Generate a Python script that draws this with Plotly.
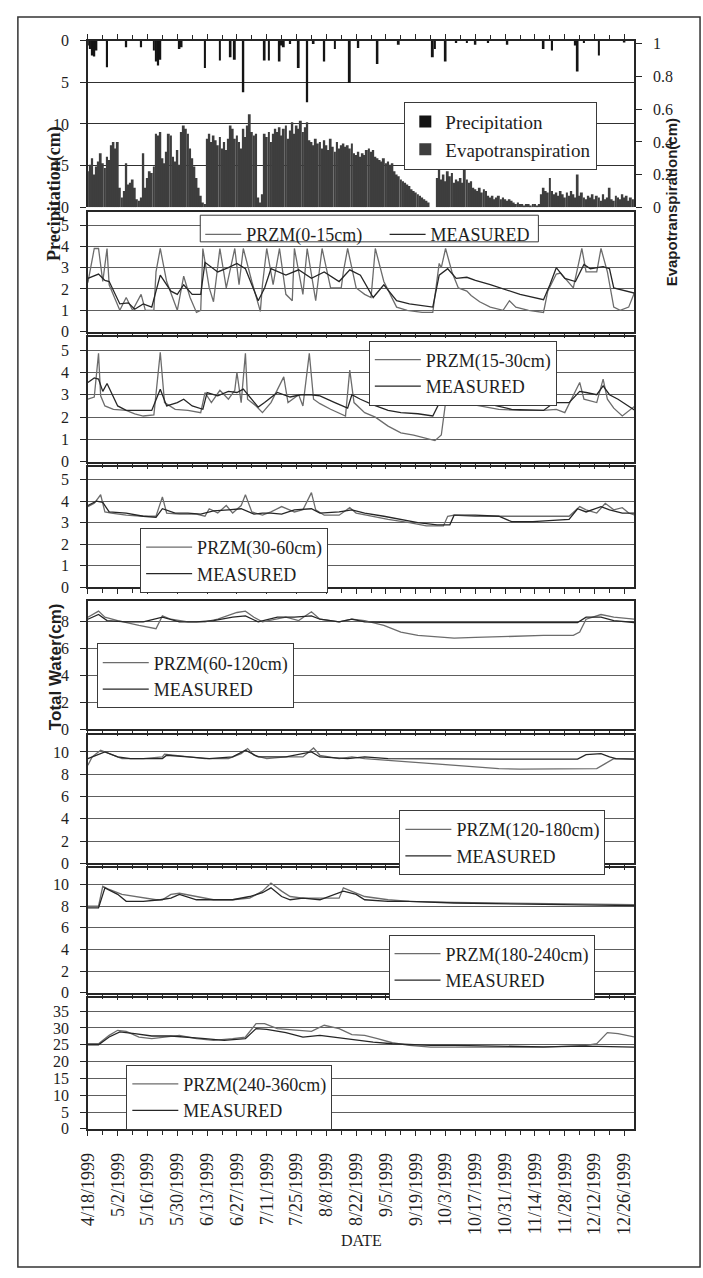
import pandas as pd
import plotly.graph_objects as go

# ---------------------------------------------------------------------------
# Data: daily record starting 18 Apr 1999.  Day numbers count days after that date.
# ---------------------------------------------------------------------------
START = pd.Timestamp("1999-04-18")
END = pd.Timestamp("1999-12-30 12:00")

rain_day = [0, 1, 2, 3, 4, 9, 18, 25, 31, 32, 33, 34, 43, 44, 55, 62, 67, 69, 73,
            83, 85, 90, 91, 92, 95, 99, 103, 106, 111, 116, 123, 127, 136, 146,
            162, 163, 168, 173, 178, 182, 188, 197, 214, 218, 229, 230, 233, 240, 252]
rain_cm = [0.6, 1.0, 1.8, 1.9, 1.2, 3.2, 0.8, 0.8, 1.2, 2.5, 3.0, 2.3, 1.0, 0.8, 3.3, 2.4, 2.0, 2.3, 6.2,
           2.4, 2.4, 2.5, 0.6, 0.8, 0.4, 3.3, 7.4, 0.4, 2.5, 1.0, 5.1, 0.9, 2.8, 0.5,
           2.0, 1.0, 2.5, 0.3, 0.3, 0.5, 0.3, 0.5, 1.0, 1.2, 0.6, 3.7, 0.3, 1.8, 0.2]

# daily evapotranspiration (cm), one value per day from day 0 to day 256
et_cm = [
    0.22, 0.26, 0.30, 0.20, 0.25, 0.28, 0.33, 0.27, 0.24, 0.31,
    0.29, 0.38, 0.40, 0.36, 0.40, 0.12, 0.06, 0.10, 0.27, 0.14,
    0.15, 0.17, 0.12, 0.05, 0.04, 0.06, 0.33, 0.12, 0.18, 0.22,
    0.21, 0.25, 0.45, 0.44, 0.46, 0.30, 0.27, 0.34, 0.45, 0.44,
    0.31, 0.28, 0.35, 0.26, 0.46, 0.50, 0.48, 0.45, 0.36, 0.30,
    0.25, 0.18, 0.12, 0.07, 0.03, 0.02, 0.42, 0.45, 0.40, 0.44,
    0.41, 0.38, 0.43, 0.36, 0.40, 0.35, 0.42, 0.50, 0.48, 0.42,
    0.44, 0.40, 0.36, 0.48, 0.43, 0.50, 0.57, 0.46, 0.44, 0.45,
    0.06, 0.03, 0.08, 0.45, 0.43, 0.46, 0.40, 0.45, 0.48, 0.46,
    0.49, 0.44, 0.48, 0.50, 0.42, 0.47, 0.52, 0.45, 0.50, 0.48,
    0.53, 0.46, 0.49, 0.52, 0.41, 0.40, 0.38, 0.42, 0.39, 0.40,
    0.36, 0.41, 0.38, 0.35, 0.42, 0.37, 0.34, 0.40, 0.36, 0.38,
    0.39, 0.37, 0.38, 0.36, 0.39, 0.33, 0.32, 0.34, 0.31, 0.33,
    0.32, 0.35, 0.36, 0.34, 0.35, 0.31, 0.30, 0.29, 0.28, 0.30,
    0.27, 0.28, 0.26, 0.27, 0.22, 0.20, 0.19, 0.17, 0.16, 0.15,
    0.14, 0.13, 0.11, 0.10, 0.09, 0.08, 0.07, 0.06, 0.05, 0.04,
    0.03, 0.00, 0.00, 0.00, 0.18, 0.27, 0.17, 0.20, 0.16, 0.22,
    0.19, 0.21, 0.15, 0.17, 0.16, 0.18, 0.15, 0.24, 0.17, 0.15,
    0.16, 0.12, 0.11, 0.10, 0.12, 0.09, 0.11, 0.10, 0.07, 0.06,
    0.07, 0.05, 0.06, 0.07, 0.05, 0.06, 0.05, 0.04, 0.05, 0.04,
    0.03, 0.02, 0.03, 0.02, 0.02, 0.01, 0.02, 0.02, 0.01, 0.02,
    0.02, 0.01, 0.02, 0.08, 0.12, 0.10, 0.09, 0.18, 0.10, 0.08,
    0.09, 0.07, 0.10, 0.08, 0.06, 0.09, 0.07, 0.10, 0.08, 0.06,
    0.20, 0.07, 0.09, 0.06, 0.05, 0.07, 0.06, 0.08, 0.05, 0.07,
    0.06, 0.04, 0.08, 0.05, 0.06, 0.12, 0.05, 0.04, 0.07, 0.06,
    0.05, 0.08, 0.06, 0.07, 0.04, 0.06, 0.05,
]

# --- 0-15 cm ---
przm_0_15_day = [0, 3, 5, 7, 9, 10, 15, 18, 21, 25, 27, 31, 32, 34, 37, 42, 45, 48, 51, 53, 54, 57, 59,
                 62, 65, 67, 69, 71, 73, 77, 81, 82, 84, 87, 90, 93, 96, 97, 101, 103, 107, 110, 114,
                 119, 120, 122, 126, 130, 133, 135, 139, 145, 150, 157, 162, 165, 166, 168, 171, 174,
                 178, 180, 184, 189, 195, 198, 201, 207, 214, 216, 220, 222, 228, 232, 234, 239, 241,
                 244, 247, 250, 254, 257]
przm_0_15 = [2.3, 3.9, 3.9, 2.35, 3.9, 2.2, 1.0, 1.6, 1.0, 1.75, 1.0, 1.0, 2.8, 3.9, 2.35, 1.0, 2.6, 1.6,
             0.9, 1.0, 3.9, 2.05, 1.4, 3.9, 2.05, 3.0, 3.9, 2.2, 3.9, 2.35, 0.95, 2.2, 3.9, 2.2, 3.9,
             1.75, 1.45, 3.9, 1.75, 3.9, 1.45, 3.9, 2.05, 2.05, 2.8, 3.9, 2.05, 1.75, 1.6, 3.9, 2.35,
             1.15, 1.0, 0.9, 0.9, 3.2, 3.0, 3.9, 2.8, 2.05, 1.9, 1.7, 1.4, 1.15, 1.0, 1.45, 1.15, 1.0,
             0.9, 1.9, 2.7, 2.75, 2.05, 3.9, 2.8, 2.8, 3.9, 2.8, 1.15, 1.0, 1.15, 1.9]
meas_0_15_day = [0, 5, 8, 10, 15, 19, 22, 26, 30, 34, 39, 42, 45, 49, 53, 55, 61, 66, 70, 74, 80, 83, 86,
                 93, 99, 105, 111, 118, 123, 128, 134, 139, 145, 151, 162, 165, 169, 173, 178, 182, 189,
                 198, 203, 214, 217, 220, 224, 229, 233, 236, 242, 245, 247, 257]
meas_0_15 = [2.5, 2.7, 2.4, 2.35, 1.3, 1.35, 1.05, 1.3, 1.15, 2.65, 1.9, 1.75, 2.2, 1.75, 1.75, 3.25, 2.8,
             3.0, 3.2, 2.95, 1.45, 2.05, 2.95, 2.65, 2.9, 2.5, 2.8, 2.35, 2.9, 2.65, 1.6, 2.2, 1.45, 1.3,
             1.15, 2.65, 2.95, 2.5, 2.55, 2.4, 2.2, 1.9, 1.75, 1.5, 2.2, 3.0, 2.5, 2.35, 3.15, 2.95, 3.05,
             2.95, 2.05, 1.8]

# --- 15-30 cm ---
przm_15_30_day = [0, 3, 5, 6, 8, 12, 18, 22, 26, 31, 34, 36, 41, 47, 53, 55, 58, 62, 66, 69, 70, 72, 74,
                  75, 79, 82, 86, 92, 94, 99, 101, 104, 106, 109, 114, 121, 123, 125, 130, 135, 141, 147,
                  153, 159, 163, 166, 168, 170, 176, 184, 193, 203, 214, 220, 224, 231, 233, 239, 242,
                  244, 247, 251, 257]
przm_15_30 = [2.8, 2.9, 4.85, 2.95, 2.5, 2.35, 2.3, 2.15, 2.05, 2.1, 4.9, 2.65, 2.35, 2.3, 2.2, 3.1, 2.65,
              3.2, 2.8, 3.2, 4.0, 2.65, 4.85, 2.8, 2.5, 2.2, 2.65, 3.8, 2.65, 3.0, 2.5, 4.85, 2.8, 2.6,
              2.35, 2.05, 4.1, 2.65, 2.2, 2.0, 1.6, 1.3, 1.2, 1.03, 0.95, 1.2, 2.65, 2.8, 2.65, 2.5, 2.35,
              2.3, 2.3, 2.35, 2.2, 3.55, 2.8, 2.65, 3.7, 2.8, 2.4, 2.05, 2.5]
meas_15_30_day = [0, 3, 5, 7, 9, 14, 18, 24, 30, 34, 37, 42, 45, 49, 54, 56, 61, 66, 70, 73, 76, 80, 83,
                  89, 95, 100, 105, 109, 116, 122, 124, 128, 134, 141, 147, 155, 162, 167, 170, 178, 189,
                  199, 214, 219, 226, 231, 234, 239, 242, 245, 249, 257]
meas_15_30 = [3.55, 3.75, 3.7, 3.15, 3.5, 2.5, 2.3, 2.3, 2.3, 3.25, 2.5, 2.65, 2.8, 2.5, 2.35, 3.1, 2.95,
              3.15, 3.1, 3.25, 2.9, 2.45, 2.65, 3.1, 2.9, 3.0, 3.0, 2.95, 2.65, 2.4, 3.0, 2.8, 2.55, 2.3,
              2.2, 2.15, 2.05, 3.0, 2.8, 2.65, 2.57, 2.35, 2.3, 2.65, 2.65, 3.15, 3.1, 3.0, 3.4, 3.0, 2.8,
              2.3]

# --- 30-60 cm ---
przm_30_60_day = [0, 3, 6, 8, 11, 18, 26, 32, 35, 37, 43, 51, 55, 57, 61, 65, 68, 72, 74, 77, 82, 86, 91,
                  97, 101, 105, 107, 111, 118, 123, 126, 134, 141, 151, 159, 167, 169, 172, 182, 193, 199,
                  207, 218, 226, 231, 234, 239, 243, 247, 251, 254, 257]
przm_30_60 = [3.75, 3.9, 4.3, 3.5, 3.45, 3.35, 3.3, 3.3, 4.2, 3.45, 3.4, 3.4, 3.3, 3.65, 3.45, 3.8, 3.45,
              3.8, 4.3, 3.5, 3.35, 3.5, 3.75, 3.5, 3.6, 4.4, 3.6, 3.35, 3.35, 3.7, 3.45, 3.3, 3.15, 3.0,
              2.85, 2.85, 3.3, 3.35, 3.3, 3.3, 3.3, 3.3, 3.3, 3.3, 3.75, 3.6, 3.45, 3.9, 3.6, 3.7, 3.45,
              3.35]
meas_30_60_day = [0, 4, 7, 10, 18, 26, 32, 35, 41, 47, 53, 59, 66, 72, 78, 82, 86, 91, 97, 105, 109, 118,
                  124, 130, 139, 147, 155, 164, 170, 172, 182, 193, 199, 209, 220, 226, 230, 234, 241, 245,
                  251, 257]
meas_30_60 = [3.8, 4.0, 3.95, 3.5, 3.45, 3.3, 3.25, 3.65, 3.45, 3.45, 3.4, 3.55, 3.6, 3.65, 3.4, 3.45,
              3.45, 3.4, 3.6, 3.65, 3.45, 3.5, 3.6, 3.45, 3.3, 3.15, 3.0, 2.9, 2.9, 3.35, 3.35, 3.3, 3.05,
              3.05, 3.1, 3.15, 3.65, 3.5, 3.75, 3.6, 3.45, 3.45]

# --- 60-120 cm ---
przm_60_120_day = [0, 5, 8, 14, 24, 32, 35, 39, 47, 55, 61, 70, 74, 78, 82, 93, 99, 105, 109, 118, 124,
                   130, 139, 147, 155, 164, 172, 182, 193, 203, 214, 228, 231, 234, 241, 247, 257]
przm_60_120 = [8.3, 8.75, 8.3, 8.05, 7.7, 7.45, 8.4, 8.15, 7.95, 7.95, 8.15, 8.65, 8.75, 8.3, 7.95, 8.3,
               8.05, 8.7, 8.15, 7.95, 8.15, 8.05, 7.7, 7.2, 6.95, 6.85, 6.75, 6.8, 6.85, 6.9, 6.95, 6.95,
               7.2, 8.15, 8.5, 8.3, 8.15]
meas_60_120_day = [0, 5, 9, 18, 26, 35, 43, 51, 59, 68, 74, 80, 89, 97, 105, 109, 118, 124, 130, 141, 172,
                   214, 230, 234, 241, 247, 257]
meas_60_120 = [8.15, 8.5, 8.05, 7.95, 7.95, 8.3, 7.95, 7.95, 8.05, 8.3, 8.4, 7.95, 8.3, 8.3, 8.4, 8.15,
               7.95, 8.15, 7.95, 7.9, 7.9, 7.9, 7.9, 8.3, 8.3, 8.05, 7.9]

# --- 120-180 cm ---
przm_120_180_day = [0, 2, 6, 10, 16, 26, 35, 36, 47, 55, 66, 72, 75, 78, 84, 93, 101, 106, 109, 118, 124,
                    130, 141, 151, 161, 172, 182, 193, 203, 214, 224, 234, 239, 243, 247, 257]
przm_120_180 = [8.8, 9.55, 10.15, 9.85, 9.4, 9.4, 9.55, 9.8, 9.55, 9.4, 9.4, 9.85, 10.3, 9.7, 9.4, 9.55,
                9.55, 10.35, 9.7, 9.4, 9.55, 9.4, 9.25, 9.1, 8.95, 8.75, 8.65, 8.5, 8.45, 8.45, 8.45, 8.45,
                8.5, 8.95, 9.4, 9.35]
meas_120_180_day = [0, 4, 8, 14, 20, 35, 37, 47, 57, 68, 74, 80, 93, 105, 109, 122, 130, 141, 172, 193,
                    230, 234, 241, 245, 248, 257]
meas_120_180 = [9.4, 9.7, 10.0, 9.55, 9.4, 9.4, 9.7, 9.55, 9.4, 9.55, 10.15, 9.55, 9.55, 10.0, 9.55, 9.4,
                9.55, 9.4, 9.35, 9.35, 9.35, 9.75, 9.85, 9.55, 9.4, 9.35]

# --- 180-240 cm ---
przm_180_240_day = [0, 5, 7, 10, 16, 26, 32, 35, 39, 43, 51, 59, 68, 76, 82, 86, 91, 95, 101, 109, 118,
                    120, 124, 130, 141, 151, 172, 193, 214, 234, 257]
przm_180_240 = [8.0, 8.0, 9.85, 9.55, 9.1, 8.8, 8.6, 8.6, 9.1, 9.2, 8.9, 8.6, 8.6, 8.75, 9.4, 10.15, 9.4,
                8.9, 8.75, 8.75, 8.75, 9.7, 9.4, 8.9, 8.6, 8.45, 8.35, 8.3, 8.3, 8.2, 8.15]
meas_180_240_day = [0, 5, 8, 14, 18, 26, 34, 39, 43, 51, 59, 68, 76, 82, 86, 91, 95, 101, 109, 120, 126,
                    130, 141, 151, 172, 193, 214, 234, 257]
meas_180_240 = [7.85, 7.85, 9.7, 9.1, 8.45, 8.45, 8.6, 8.75, 9.1, 8.6, 8.6, 8.6, 8.9, 9.25, 9.7, 8.9, 8.6,
                8.75, 8.6, 9.4, 9.1, 8.6, 8.45, 8.45, 8.3, 8.25, 8.15, 8.1, 8.05]

# --- 240-360 cm ---
przm_240_360_day = [0, 5, 10, 14, 18, 24, 30, 36, 43, 51, 59, 68, 74, 79, 83, 89, 97, 105, 111, 118, 124,
                    130, 136, 143, 151, 161, 172, 193, 214, 234, 239, 244, 249, 257]
przm_240_360 = [25.3, 25.3, 27.8, 29.3, 29.0, 27.3, 26.8, 27.3, 27.8, 26.8, 26.3, 26.8, 27.3, 31.3, 31.3,
                29.8, 29.3, 29.0, 30.8, 29.8, 28.0, 27.8, 26.8, 25.6, 24.8, 24.3, 24.3, 24.3, 24.3, 24.8,
                25.3, 28.6, 28.3, 27.3]
meas_240_360_day = [0, 5, 10, 15, 22, 30, 39, 47, 55, 64, 74, 79, 84, 93, 101, 109, 118, 126, 134, 143,
                    151, 161, 172, 193, 214, 234, 257]
meas_240_360 = [25.0, 25.0, 27.3, 28.8, 28.3, 27.6, 27.6, 27.3, 26.8, 26.3, 26.8, 29.8, 29.6, 28.6, 27.3,
                27.8, 27.1, 26.3, 25.8, 25.3, 25.0, 24.8, 24.8, 24.5, 24.4, 24.6, 24.3]

tick_label_format = "%-m/%-d/%Y"

# ---------------------------------------------------------------------------
# Layout helpers (figure drawn in pixel units of a 703 x 1278 page)
# ---------------------------------------------------------------------------
W, H = 703, 1278
DAY_MS = 86400000


def dates(days):
    return [START + pd.Timedelta(days=d) for d in days]


def fx(px):
    return px / W


def fy(py):
    return 1 - py / H


SERIF = "Liberation Serif, Times New Roman, serif"
SANS = "Liberation Sans, Arial, sans-serif"
INK = "#1e1e1e"
AXIS = "#262626"
GRID = "#5e5e5e"
PRZM_C = "#6c6c6c"
MEAS_C = "#262626"
X0, X1 = 79, 633
TICK_FONT = dict(family=SERIF, size=16, color=INK)

# soil layers: label, przm, measured, plot box (top, bottom px), y max, tick step, legend position
layers = [
    ("0-15cm", (przm_0_15_day, przm_0_15), (meas_0_15_day, meas_0_15), (207, 328), 5.6, 1,
     dict(x=193, y=210, row=(536, 237, 187))),
    ("15-30cm", (przm_15_30_day, przm_15_30), (meas_15_30_day, meas_15_30), (333, 460), 5.6, 1,
     dict(x=364, y=337)),
    ("30-60cm", (przm_30_60_day, przm_30_60), (meas_30_60_day, meas_30_60), (465, 587), 5.6, 1,
     dict(x=132, y=527)),
    ("60-120cm", (przm_60_120_day, przm_60_120), (meas_60_120_day, meas_60_120), (601, 731), 9.5, 2,
     dict(x=88, y=644)),
    ("120-180cm", (przm_120_180_day, przm_120_180), (meas_120_180_day, meas_120_180), (737, 867), 11.5, 2,
     dict(x=395, y=813)),
    ("180-240cm", (przm_180_240_day, przm_180_240), (meas_180_240_day, meas_180_240), (872, 998), 11.5, 2,
     dict(x=384, y=939)),
    ("240-360cm", (przm_240_360_day, przm_240_360), (meas_240_360_day, meas_240_360), (1003, 1136), 39, 5,
     dict(x=118, y=1071)),
]

fig = go.Figure()
layout = dict(
    width=W, height=H, margin=dict(l=0, r=0, t=0, b=0),
    paper_bgcolor="white", plot_bgcolor="white",
    barmode="overlay", showlegend=True,
    font=dict(family=SERIF, size=18, color=INK),
)
shapes = [
    dict(type="rect", xref="paper", yref="paper", x0=fx(8), x1=fx(700), y0=fy(1276), y1=fy(9),
         line=dict(color="#333333", width=1.5), fillcolor="rgba(0,0,0,0)", layer="below"),
]


def legend_box(x, y, size=18, itemwidth=46, framed=True):
    return dict(
        x=fx(x), y=fy(y), xanchor="left", yanchor="top", orientation="v",
        bgcolor="white" if framed else "rgba(0,0,0,0)",
        bordercolor="#3a3a3a", borderwidth=1 if framed else 0,
        font=dict(family=SERIF, size=size, color=INK),
        tracegroupgap=0, itemclick=False, itemdoubleclick=False, itemwidth=itemwidth,
    )


def date_axis(anchor, labels, side="bottom"):
    return dict(
        type="date", domain=[fx(X0), fx(X1)], anchor=anchor, side=side,
        range=[START, END], showgrid=False, zeroline=False,
        showline=True, linecolor=AXIS, linewidth=1.6,
        ticks="outside", ticklen=5, tickwidth=1, tickcolor=AXIS,
        tickmode="linear", tick0=START, dtick=14 * DAY_MS,
        minor=dict(ticks="outside", ticklen=4, tickcolor=AXIS, dtick=7 * DAY_MS, tick0=START),
        showticklabels=labels, tickformat=tick_label_format, tickangle=-90,
        ticklabelstandoff=10,
        tickfont=dict(family=SERIF, size=18, color=INK),
    )


def value_axis(domain, anchor, rng, step, **extra):
    ax = dict(
        domain=domain, anchor=anchor, range=rng, tickmode="linear", tick0=0, dtick=step,
        showline=True, linecolor=AXIS, linewidth=1.6, ticks="outside", ticklen=6, tickcolor=AXIS,
        zeroline=False, tickfont=TICK_FONT, ticklabelstandoff=8,
    )
    ax.update(extra)
    return ax


# --- top panel: precipitation (downward, left) and evapotranspiration (right) ---
fig.add_trace(go.Bar(
    x=dates(rain_day), y=rain_cm, name="Precipitation", width=0.9 * DAY_MS,
    marker=dict(color="#141414", line=dict(width=0)), xaxis="x", yaxis="y", legend="legend",
))
fig.add_trace(go.Bar(
    x=dates(range(len(et_cm))), y=et_cm, name="Evapotranspiration", width=0.92 * DAY_MS,
    marker=dict(color="#3e3e3e", line=dict(width=0)), xaxis="x", yaxis="y9", legend="legend",
))

layout["xaxis"] = date_axis("y", False, side="top")
layout["yaxis"] = value_axis([fy(202), fy(33)], "x", [20, 0], 5,
                             showgrid=True, gridcolor="#303030", gridwidth=1)
layout["yaxis9"] = value_axis([fy(202), fy(33)], "x", [0, 1.02], 0.2,
                              overlaying="y", side="right", showgrid=False)
layout["legend"] = legend_box(400, 95, size=19, itemwidth=30)

# --- soil water panels ---
extra_legend = 10
for i, (label, (pd_day, pd_val), (md_day, md_val), (top, bot), ymax, step, leg) in enumerate(layers, start=2):
    xa, ya, lg = f"x{i}", f"y{i}", f"legend{i}"
    if "row" in leg:
        # one-row key: two frameless keys side by side inside a drawn frame
        right, bottom, pitch = leg["row"]
        lg_meas = f"legend{extra_legend}"
        shapes.append(dict(type="rect", xref="paper", yref="paper", layer="above",
                           x0=fx(leg["x"]), x1=fx(right), y0=fy(bottom), y1=fy(leg["y"]),
                           line=dict(color="#3a3a3a", width=1), fillcolor="white"))
        layout[lg] = legend_box(leg["x"], leg["y"] + 1, itemwidth=36, framed=False)
        layout[lg_meas] = legend_box(leg["x"] + pitch, leg["y"] + 1, itemwidth=36, framed=False)
    else:
        lg_meas = lg
        layout[lg] = legend_box(leg["x"], leg["y"])
    fig.add_trace(go.Scatter(
        x=dates(pd_day), y=pd_val, mode="lines", name=f"PRZM({label})",
        line=dict(color=PRZM_C, width=1.3), xaxis=xa, yaxis=ya, legend=lg,
    ))
    fig.add_trace(go.Scatter(
        x=dates(md_day), y=md_val, mode="lines", name="MEASURED",
        line=dict(color=MEAS_C, width=1.3), xaxis=xa, yaxis=ya, legend=lg_meas,
    ))
    ax = date_axis(ya, i == len(layers) + 1)
    ax["mirror"] = True
    ax["matches"] = "x"
    layout[f"xaxis{i}"] = ax
    layout[f"yaxis{i}"] = value_axis([fy(bot), fy(top)], xa, [0, ymax], step, mirror=True,
                                     showgrid=True, gridcolor=GRID, gridwidth=1)

layout["annotations"] = [
    dict(text="<b>Precipitation(cm)</b>", x=fx(33), y=fy(118), xref="paper", yref="paper",
         textangle=-90, showarrow=False, font=dict(family=SERIF, size=18, color=INK)),
    dict(text="<b>Evapotranspiration(cm)</b>", x=fx(682), y=fy(110), xref="paper", yref="paper",
         textangle=-90, showarrow=False, font=dict(family=SANS, size=15, color=INK)),
    dict(text="<b>Total Water(cm)</b>", x=fx(34), y=fy(668), xref="paper", yref="paper",
         textangle=-90, showarrow=False, font=dict(family=SANS, size=17, color=INK)),
    dict(text="DATE", x=fx(357), y=fy(1260), xref="paper", yref="paper",
         showarrow=False, font=dict(family=SERIF, size=16, color=INK)),
]
layout["shapes"] = shapes

fig.update_layout(**layout)
fig.write_html("out.html")
